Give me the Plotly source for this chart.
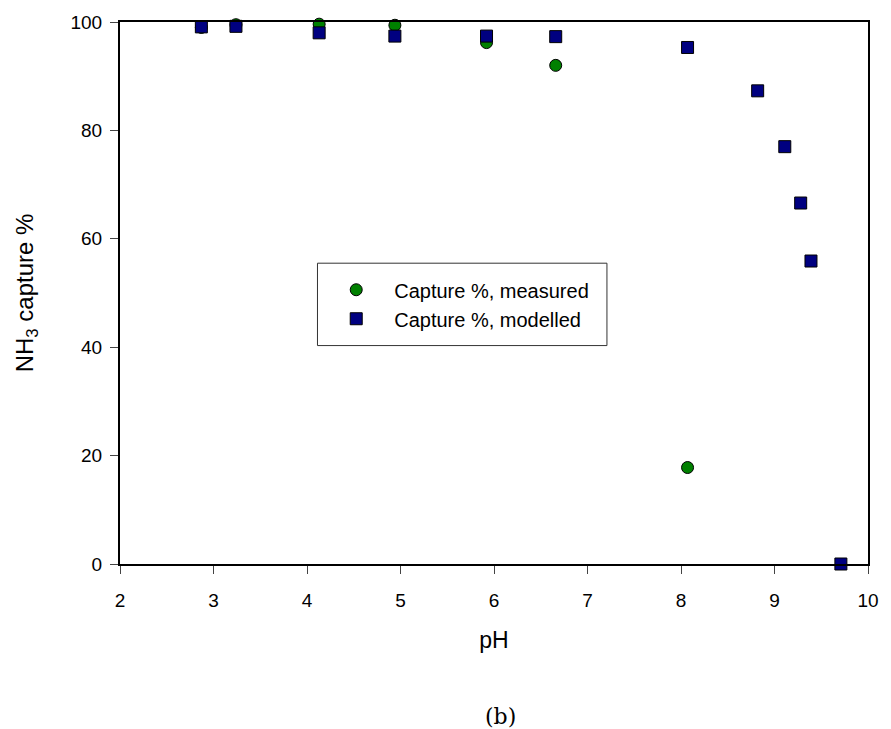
import plotly.graph_objects as go

ph_measured = [2.87, 3.24, 4.13, 4.94, 5.92, 6.66, 8.07]
capture_measured = [99.0, 99.5, 99.6, 99.4, 96.2, 92.0, 17.8]

ph_modelled = [2.87, 3.24, 4.13, 4.94, 5.92, 6.66, 8.07, 8.82, 9.11, 9.28, 9.39, 9.71]
capture_modelled = [99.1, 99.2, 98.0, 97.4, 97.4, 97.3, 95.3, 87.3, 77.0, 66.6, 55.9, 0.0]

x_ticks = [2, 3, 4, 5, 6, 7, 8, 9, 10]
y_ticks = [0, 20, 40, 60, 80, 100]

fig = go.Figure()
fig.add_trace(go.Scatter(
    x=ph_measured, y=capture_measured, mode="markers", name="Capture %, measured",
    marker=dict(symbol="circle", size=12, color="#008000", line=dict(color="black", width=1)),
    cliponaxis=False,
))
fig.add_trace(go.Scatter(
    x=ph_modelled, y=capture_modelled, mode="markers", name="Capture %, modelled",
    marker=dict(symbol="square", size=12, color="#000080", line=dict(color="black", width=1)),
    cliponaxis=False,
))

font_family = "Liberation Sans, Arial, sans-serif"

fig.update_layout(
    width=891, height=729,
    margin=dict(l=120, r=13, t=20, b=165),
    paper_bgcolor="white", plot_bgcolor="white",
    font=dict(family=font_family, size=19, color="black"),
    showlegend=True,
    legend=dict(
        x=0.265, y=0.542, xanchor="left", yanchor="top",
        bgcolor="rgba(0,0,0,0)", borderwidth=0,
        font=dict(size=20, family=font_family),
        itemwidth=66, tracegroupgap=0,
    ),
    xaxis=dict(
        range=[2, 10], tickvals=x_ticks, ticks="outside", ticklen=8, tickwidth=1,
        showline=True, linecolor="black", linewidth=2, mirror=True,
        showgrid=False, zeroline=False,
        title=dict(text="pH", font=dict(size=23), standoff=22),
        tickfont=dict(size=19), ticklabelstandoff=10,
    ),
    yaxis=dict(
        range=[0, 100], tickvals=y_ticks, ticks="outside", ticklen=8, tickwidth=1,
        showline=True, linecolor="black", linewidth=2, mirror=True,
        showgrid=False, zeroline=False,
        title=dict(text="NH<sub>3</sub> capture %", font=dict(size=24), standoff=30),
        tickfont=dict(size=19), ticklabelstandoff=4,
    ),
    shapes=[dict(
        type="rect", xref="paper", yref="paper",
        x0=0.264, x1=0.651, y0=0.403, y1=0.555,
        line=dict(color="#333333", width=1), fillcolor="rgba(0,0,0,0)",
    )],
    annotations=[dict(
        text="(b)", xref="paper", yref="paper", x=0.509, y=-0.281,
        xanchor="center", yanchor="middle", showarrow=False,
        font=dict(family="DejaVu Serif, Liberation Serif, serif", size=22, color="black"),
    )],
)

fig.write_html("out.html")
